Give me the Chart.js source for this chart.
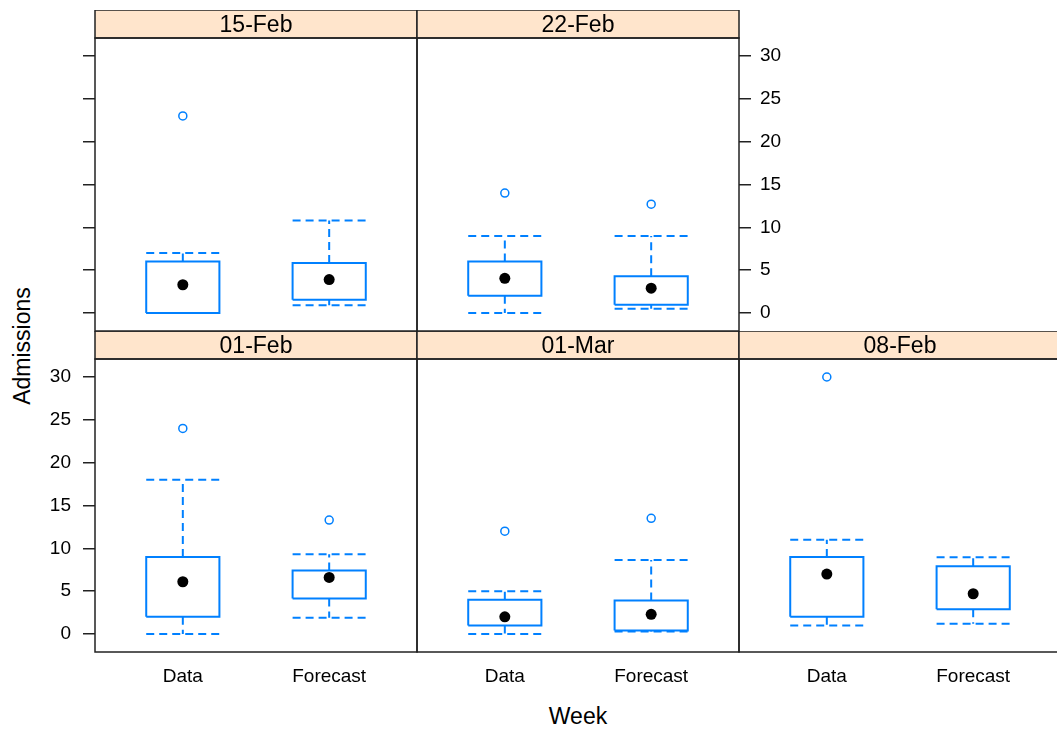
<!DOCTYPE html>
<html><head><meta charset="utf-8">
<script src="https://cdn.jsdelivr.net/npm/chart.js@4.4.1/dist/chart.umd.min.js"></script>
<style>
html,body{margin:0;padding:0;background:#fff;overflow:hidden;width:1057px;height:729px;position:relative;}
canvas{position:absolute;}
.lab{position:absolute;font-family:'Liberation Sans',Arial,sans-serif;font-size:23px;color:#000;white-space:nowrap;transform-origin:center center;}
</style></head><body>
<div class="lab" id="xl">Week</div>
<div class="lab" id="yl">Admissions</div>
<script>
// ---- data (per week: [Data, Forecast]) ----
const weeks  = ['01-Feb', '01-Mar', '08-Feb', '15-Feb', '22-Feb'];
const groups = ['Data', 'Forecast'];
const yTicks = [0, 5, 10, 15, 20, 25, 30];
const whiskLow  = [[0, 1.9],  [0, 0.3],  [1, 1.2],   [0, 0.9],   [0, 0.5]];
const boxQ1     = [[2, 4.15], [1, 0.4],  [2, 2.9],   [0, 1.55],  [2, 0.95]];
const medians   = [[6.1, 6.6],[2, 2.3],  [7, 4.7],   [3.3, 3.9], [4.05, 2.9]];
const boxQ3     = [[9, 7.4],  [4, 3.9],  [9, 7.9],   [6, 5.85],  [6, 4.3]];
const whiskHigh = [[18, 9.3], [5, 8.65], [11, 8.95], [7, 10.8],  [9, 9]];
const outliers  = [[[24],[13.3]], [[12],[13.5]], [[30],[]], [[23],[]], [[14],[12.7]]];

// ---- layout ----
const FONT = "'Liberation Sans', Arial, sans-serif";
const colL = [95, 417, 739];
const rowTop = [10, 331];
const PW = 322, PH = 293, SH = 28, AX = 70, XH = 50;
const place = {
  '01-Feb': {col:0, row:1, leftTicks:true,  leftLabels:true,  rightLabels:false, xlab:true},
  '01-Mar': {col:1, row:1, leftTicks:false, leftLabels:false, rightLabels:false, xlab:true},
  '08-Feb': {col:2, row:1, leftTicks:false, leftLabels:false, rightLabels:false, xlab:true},
  '15-Feb': {col:0, row:0, leftTicks:true,  leftLabels:false, rightLabels:false, xlab:false},
  '22-Feb': {col:1, row:0, leftTicks:false, leftLabels:false, rightLabels:true,  xlab:false}
};
const BLUE = '#0080ff';
const LINE = '#222';
const HW = 0.25;

const stripPlugin = {
  id: 'strip',
  afterDraw(chart, args, opts) {
    const {ctx, chartArea: a} = chart;
    ctx.save();
    ctx.fillStyle = '#ffe5cc';
    ctx.fillRect(a.left, a.top - SH, a.right - a.left, SH);
    ctx.strokeStyle = LINE;
    ctx.lineWidth = 1.5;
    ctx.strokeRect(a.left, a.top - SH, a.right - a.left, SH);
    ctx.strokeRect(a.left, a.top, a.right - a.left, a.bottom - a.top);
    ctx.fillStyle = '#000';
    ctx.font = '23px ' + FONT;
    ctx.textAlign = 'center';
    ctx.textBaseline = 'middle';
    ctx.fillText(opts.text, (a.left + a.right) / 2, a.top - SH / 2 + 1.5);
    ctx.restore();
  }
};

weeks.forEach((wk, i) => {
  const p = place[wk];
  const cv = document.createElement('canvas');
  const W = PW + 2 * AX, H = SH + PH + XH;
  cv.width = W; cv.height = H;
  cv.style.left = (colL[p.col] - AX) + 'px';
  cv.style.top = rowTop[p.row] + 'px';
  cv.style.width = W + 'px'; cv.style.height = H + 'px';
  document.body.appendChild(cv);

  const boxPts = [], whPts = [], medPts = [], outPts = [];
  groups.forEach((g, j) => {
    const c = j + 1;
    const q1 = boxQ1[i][j], q3 = boxQ3[i][j], lo = whiskLow[i][j], hi = whiskHigh[i][j];
    boxPts.push({x:c-HW,y:q1},{x:c+HW,y:q1},{x:c+HW,y:q3},{x:c-HW,y:q3},{x:c-HW,y:q1},{x:c,y:null});
    whPts.push({x:c,y:q3},{x:c,y:hi},{x:c,y:null},
               {x:c-HW,y:hi},{x:c+HW,y:hi},{x:c,y:null},
               {x:c,y:q1},{x:c,y:lo},{x:c,y:null},
               {x:c-HW,y:lo},{x:c+HW,y:lo},{x:c,y:null});
    medPts.push({x:c, y:medians[i][j]});
    outliers[i][j].forEach(v => outPts.push({x:c, y:v}));
  });

  const tickFont = {family: FONT, size: 19};
  const yAxis = (pos, showTicks, showLabels) => ({
    type: 'linear', position: pos, min: -2.1, max: 32.1,
    afterBuildTicks: s => { s.ticks = yTicks.map(v => ({value: v})); },
    afterFit: s => { s.width = AX; },
    border: {display: false},
    grid: {display: showTicks, drawOnChartArea: false, drawTicks: true, tickLength: 12, color: LINE, lineWidth: 1.5},
    ticks: {display: showLabels, font: tickFont, color: '#000', padding: pos === 'left' ? 12 : 9}
  });

  new Chart(cv, {
    type: 'scatter',
    data: {
      datasets: [
        {data: boxPts, showLine: true, borderColor: BLUE, borderWidth: 2, pointRadius: 0, tension: 0, fill: false, spanGaps: false},
        {data: whPts, showLine: true, borderColor: BLUE, borderWidth: 2, borderDash: [8, 5], pointRadius: 0, tension: 0, fill: false, spanGaps: false},
        {data: outPts, showLine: false, pointRadius: 4, pointBorderWidth: 1.5, pointBorderColor: BLUE, pointBackgroundColor: '#fff'},
        {data: medPts, showLine: false, pointRadius: 5.5, pointBorderWidth: 0, pointBackgroundColor: '#000', pointBorderColor: '#000'}
      ]
    },
    options: {
      responsive: false, maintainAspectRatio: false, animation: false, devicePixelRatio: 1,
      layout: {padding: {top: SH, left: 0, right: 0, bottom: 0}},
      plugins: {legend: {display: false}, tooltip: {enabled: false}, strip: {text: wk}},
      scales: {
        x: {
          type: 'linear', position: 'bottom', min: 0.4, max: 2.6,
          afterBuildTicks: s => { s.ticks = groups.map((g, k) => ({value: k + 1})); },
          afterFit: s => { s.height = XH; },
          border: {display: false},
          grid: {display: false},
          ticks: {display: p.xlab, font: tickFont, color: '#000', padding: 5, maxRotation: 0,
                  callback: v => groups[Math.round(v) - 1]}
        },
        y: yAxis('left', p.leftTicks, p.leftLabels),
        y2: yAxis('right', p.rightLabels, p.rightLabels)
      }
    },
    plugins: [stripPlugin]
  });
});

const xl = document.getElementById('xl');
xl.style.left = '578px'; xl.style.top = '716px';
xl.style.transform = 'translate(-50%,-50%)';
const yl = document.getElementById('yl');
yl.style.left = '22px'; yl.style.top = '346px';
yl.style.transform = 'translate(-50%,-50%) rotate(-90deg)';
</script>
</body></html>
